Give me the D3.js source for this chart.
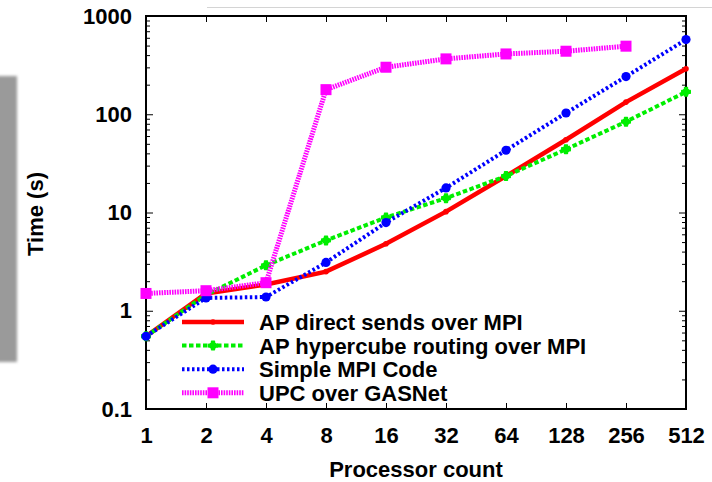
<!DOCTYPE html>
<html>
<head>
<meta charset="utf-8">
<script src="https://cdn.jsdelivr.net/npm/d3@7"></script>
<style>
body { margin: 0; background: #fff; }
#chart text { font-family: "Liberation Sans", Arial, sans-serif; font-weight: bold; fill: #000; }
</style>
</head>
<body>
<div id="chart"></div>
<script>
var procs = [1, 2, 4, 8, 16, 32, 64, 128, 256, 512];
var seriesNames = ['AP direct sends over MPI', 'AP hypercube routing over MPI', 'Simple MPI Code', 'UPC over GASNet'];
var apDirect = [0.55, 1.5, 1.85, 2.5, 4.8, 10.2, 23.5, 55, 133, 290];
var apHypercube = [0.55, 1.45, 2.9, 5.2, 8.9, 14, 23.5, 44, 84, 169];
var simpleMpi = [0.55, 1.35, 1.38, 3.1, 7.9, 17.8, 43, 103, 242, 575];
var upcGasnet = [1.5, 1.6, 1.93, 178, 301, 366, 411, 438, 493];
var yTicks = [0.1, 1, 10, 100, 1000];
var yTickLabels = ['0.1', '1', '10', '100', '1000'];

var width = 712, height = 482;
var plotLeft = 146, plotRight = 686, plotTop = 16, plotBottom = 409;

var styles = [
	{ color: '#ff0000', width: 4.5, dash: null, shape: 'dot' },
	{ color: '#00ee00', width: 4, dash: '4.5,2.5', shape: 'blob' },
	{ color: '#0000ff', width: 4, dash: '2.5,2.5', shape: 'circle' },
	{ color: '#ff00ff', width: 5, dash: '1.6,1', shape: 'square' }
];
var allSeries = [apDirect, apHypercube, simpleMpi, upcGasnet];

var svg = d3.select('#chart')
	.append('svg')
	.attr('width', width)
	.attr('height', height);

// 左边灰色模糊块
var defs = svg.append('defs');
defs.append('filter')
	.attr('id', 'blur')
	.attr('x', '-50%').attr('y', '-10%').attr('width', '200%').attr('height', '120%')
	.append('feGaussianBlur')
	.attr('stdDeviation', 1.8);
svg.append('rect')
	.attr('x', -6).attr('y', 76).attr('width', 23).attr('height', 286)
	.attr('fill', '#9a9a9a')
	.attr('filter', 'url(#blur)');

svg.append('line')
	.attr('x1', 207).attr('x2', width).attr('y1', 7.5).attr('y2', 7.5)
	.attr('stroke', '#d4d4d4').attr('stroke-width', 1);

var x = d3.scaleLog().base(2).domain([1, 512]).range([plotLeft, plotRight]);
var y = d3.scaleLog().domain([0.1, 1000]).range([plotBottom, plotTop]);

var minorTicks = [];
for (var k = -1; k < 3; k++) {
	for (var m = 2; m < 10; m++) minorTicks.push(m * Math.pow(10, k));
}

function styleAxis(g) {
	g.select('.domain').remove();
	g.selectAll('.tick line').attr('stroke', '#000').attr('stroke-width', 1);
	g.selectAll('text').attr('font-size', '22px');
}

svg.append('g')
	.attr('transform', 'translate(0,' + plotBottom + ')')
	.call(d3.axisBottom(x).tickValues(procs).tickFormat(d3.format('d')).tickSizeInner(-6).tickSizeOuter(0).tickPadding(18))
	.call(styleAxis);
svg.append('g')
	.attr('transform', 'translate(0,' + plotTop + ')')
	.call(d3.axisTop(x).tickValues(procs).tickFormat('').tickSizeInner(-6).tickSizeOuter(0))
	.call(styleAxis);

svg.append('g')
	.attr('transform', 'translate(' + plotLeft + ',0)')
	.call(d3.axisLeft(y).tickValues(yTicks).tickFormat(function (d, i) { return yTickLabels[i]; }).tickSizeInner(-7).tickSizeOuter(0).tickPadding(14))
	.call(styleAxis);
svg.append('g')
	.attr('transform', 'translate(' + plotLeft + ',0)')
	.call(d3.axisLeft(y).tickValues(minorTicks).tickFormat('').tickSizeInner(-4).tickSizeOuter(0))
	.call(styleAxis);
svg.append('g')
	.attr('transform', 'translate(' + plotRight + ',0)')
	.call(d3.axisRight(y).tickValues(yTicks).tickFormat('').tickSizeInner(-7).tickSizeOuter(0))
	.call(styleAxis);
svg.append('g')
	.attr('transform', 'translate(' + plotRight + ',0)')
	.call(d3.axisRight(y).tickValues(minorTicks).tickFormat('').tickSizeInner(-4).tickSizeOuter(0))
	.call(styleAxis);

svg.append('rect')
	.attr('x', plotLeft).attr('y', plotTop)
	.attr('width', plotRight - plotLeft).attr('height', plotBottom - plotTop)
	.attr('fill', 'none').attr('stroke', '#000').attr('stroke-width', 2);

function drawMarker(g, shape, color, cx, cy) {
	if (shape === 'dot') {
		g.append('circle').attr('cx', cx).attr('cy', cy).attr('r', 2.8).attr('fill', color);
	} else if (shape === 'blob') {
		g.append('path').attr('d', d3.symbol(d3.symbolCross).size(40)())
			.attr('transform', 'translate(' + cx + ',' + cy + ')')
			.attr('fill', color).attr('stroke', color).attr('stroke-width', 1.5)
			.attr('stroke-linejoin', 'round');
		g.append('circle').attr('cx', cx).attr('cy', cy).attr('r', 3.6).attr('fill', color);
	} else if (shape === 'circle') {
		g.append('circle').attr('cx', cx).attr('cy', cy).attr('r', 4.6).attr('fill', color);
	} else {
		g.append('rect').attr('x', cx - 5.5).attr('y', cy - 5.5).attr('width', 11).attr('height', 11).attr('fill', color);
	}
}

var line = d3.line()
	.x(function (d) { return x(d[0]); })
	.y(function (d) { return y(d[1]); });

allSeries.forEach(function (vals, s) {
	var st = styles[s];
	var pts = vals.map(function (v, i) { return [procs[i], v]; });
	var g = svg.append('g');
	g.append('path')
		.datum(pts)
		.attr('d', line)
		.attr('fill', 'none')
		.attr('stroke', st.color)
		.attr('stroke-width', st.width)
		.attr('stroke-dasharray', st.dash);
	pts.forEach(function (p) {
		drawMarker(g, st.shape, st.color, x(p[0]), y(p[1]));
	});
});

// 图例
var legendY = [322, 345.6, 369.2, 392.8];
seriesNames.forEach(function (name, s) {
	var st = styles[s];
	var g = svg.append('g');
	g.append('line')
		.attr('x1', 182).attr('x2', 244)
		.attr('y1', legendY[s]).attr('y2', legendY[s])
		.attr('stroke', st.color)
		.attr('stroke-width', st.width)
		.attr('stroke-dasharray', st.dash);
	drawMarker(g, st.shape, st.color, 213, legendY[s]);
	g.append('text')
		.attr('x', 259).attr('y', legendY[s])
		.attr('dy', '0.36em')
		.attr('font-size', '22px')
		.text(name);
});

svg.append('text')
	.attr('transform', 'translate(43,214) rotate(-90)')
	.attr('text-anchor', 'middle')
	.attr('font-size', '22px')
	.text('Time (s)');

svg.append('text')
	.attr('x', (plotLeft + plotRight) / 2).attr('y', 477)
	.attr('text-anchor', 'middle')
	.attr('font-size', '22px')
	.text('Processor count');
</script>
</body>
</html>
